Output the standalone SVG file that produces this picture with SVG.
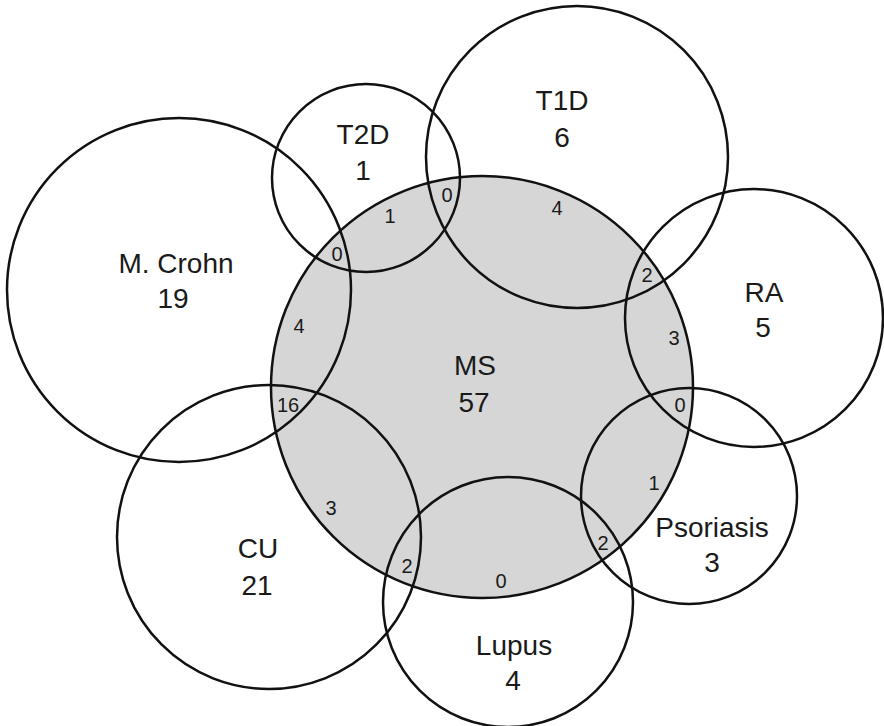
<svg xmlns="http://www.w3.org/2000/svg" width="884" height="726" viewBox="0 0 884 726">
<style>
.c{fill:none;stroke:#111;stroke-width:2.5}
.L{font-family:"Liberation Sans",Arial,sans-serif;font-size:28px;fill:#1a1a1a;text-anchor:middle}
.s{font-family:"Liberation Sans",Arial,sans-serif;font-size:20px;fill:#1a1a1a;text-anchor:middle}
</style>
<rect width="884" height="726" fill="#fff"/>
<g id="MS">
<circle cx="482" cy="387" r="211" fill="#d6d6d6" stroke="#111" stroke-width="2.5"/>
<text class="L" x="475" y="375">MS</text><text class="L" x="474" y="412">57</text>
</g>
<g id="T2D">
<circle class="c" cx="366" cy="178" r="94"/>
<text class="L" x="363" y="144">T2D</text><text class="L" x="363" y="180">1</text>
</g>
<g id="T1D">
<circle class="c" cx="577" cy="157" r="151"/>
<text class="L" x="562" y="110">T1D</text><text class="L" x="562" y="147">6</text>
</g>
<g id="MCrohn">
<circle class="c" cx="179" cy="290" r="172"/>
<text class="L" x="176" y="273">M. Crohn</text><text class="L" x="173" y="308">19</text>
</g>
<g id="RA">
<circle class="c" cx="754" cy="318" r="129"/>
<text class="L" x="764" y="302">RA</text><text class="L" x="763" y="337">5</text>
</g>
<g id="CU">
<circle class="c" cx="269" cy="537" r="152"/>
<text class="L" x="258" y="558">CU</text><text class="L" x="257" y="595">21</text>
</g>
<g id="Lupus">
<circle class="c" cx="508" cy="602" r="125"/>
<text class="L" x="514" y="655">Lupus</text><text class="L" x="513" y="690">4</text>
</g>
<g id="Psoriasis">
<circle class="c" cx="689" cy="496" r="108"/>
<text class="L" x="712" y="537">Psoriasis</text><text class="L" x="712" y="572">3</text>
</g>
<g id="overlaps">
<text class="s" x="337" y="261">0</text>
<text class="s" x="390" y="223">1</text>
<text class="s" x="447" y="202">0</text>
<text class="s" x="557" y="215">4</text>
<text class="s" x="647" y="282">2</text>
<text class="s" x="674" y="345">3</text>
<text class="s" x="680" y="412">0</text>
<text class="s" x="654" y="490">1</text>
<text class="s" x="603" y="550">2</text>
<text class="s" x="501" y="588">0</text>
<text class="s" x="407" y="573">2</text>
<text class="s" x="331" y="515">3</text>
<text class="s" x="288" y="412">16</text>
<text class="s" x="299" y="333">4</text>
</g>
</svg>
